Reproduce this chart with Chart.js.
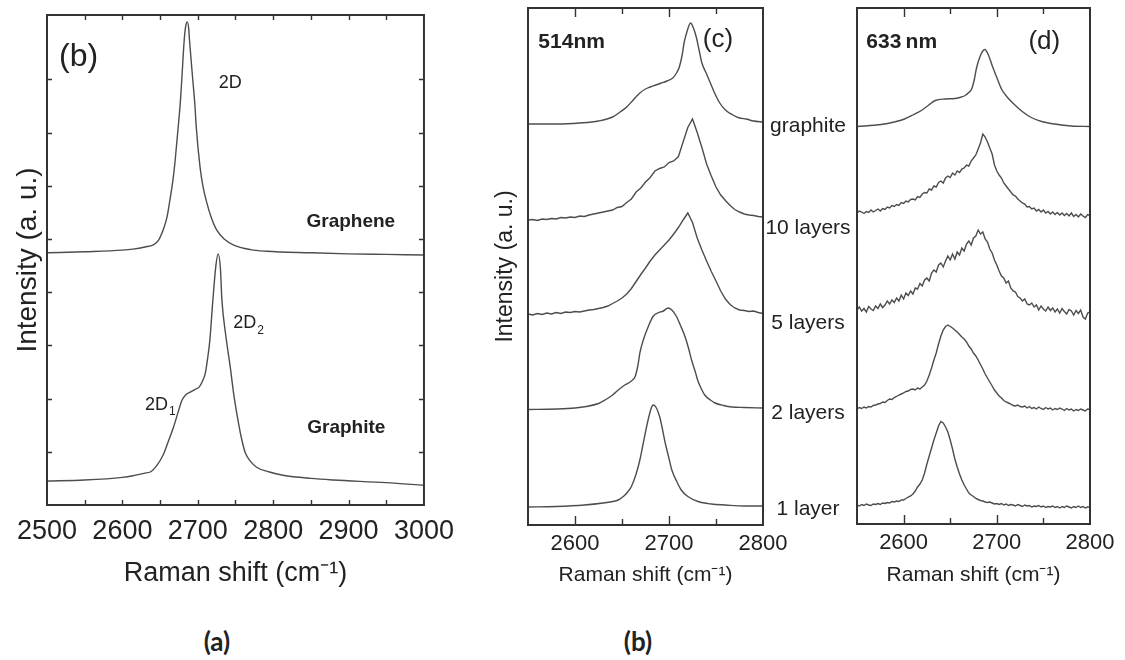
<!DOCTYPE html>
<html lang="en">
<head>
<meta charset="UTF-8">
<title>Raman 2D band of graphene and graphite</title>
<script src="https://cdn.jsdelivr.net/npm/chart.js@4.4.1/dist/chart.umd.min.js"></script>
<style>
    body, html {
        margin: 0;
        padding: 0;
        background: #fff;
    }

    #page {
        position: relative;
        width: 1125px;
        height: 660px;
        overflow: hidden;
        font-family: "Liberation Sans", Arial, sans-serif;
        color: #222;
    }

    .panel { position: absolute; top: 0; height: 600px; }
    #panelA { left: 0; width: 464px; }
    #panelC { left: 480px; width: 320px; }
    #panelD { left: 830px; width: 295px; }

    .layer {
        position: absolute;
        left: 758px;
        width: 100px;
        text-align: center;
        font-size: 21px;
        line-height: 24px;
        white-space: nowrap;
    }

    .caption {
        position: absolute;
        top: 626px;
        width: 60px;
        text-align: center;
        font-family: Lato, "Noto Sans", sans-serif;
        font-weight: bold;
        font-size: 26px;
        line-height: 30px;
    }
</style>
</head>
<body>
<div id="page">
    <div class="panel" id="panelA"><canvas id="chartA"></canvas></div>
    <div class="panel" id="panelC"><canvas id="chartC"></canvas></div>
    <div class="panel" id="panelD"><canvas id="chartD"></canvas></div>

    <div class="layer" style="top:113px">graphite</div>
    <div class="layer" style="top:215px">10 layers</div>
    <div class="layer" style="top:310px">5 layers</div>
    <div class="layer" style="top:400px">2 layers</div>
    <div class="layer" style="top:496px">1 layer</div>

    <div class="caption" style="left:187px">(a)</div>
    <div class="caption" style="left:608px">(b)</div>
</div>

<script>
    // ---- panel (a): 2D band, single layer vs bulk, 2500-3000 cm-1 ----
    const shiftGrapheneA = [2500, 2550, 2600, 2614, 2630, 2641, 2648, 2654, 2659, 2663, 2667, 2670, 2674, 2677,
        2679, 2682, 2684, 2686, 2688, 2689, 2693, 2696, 2698, 2703, 2707, 2712, 2718, 2725, 2735, 2747, 2770,
        2791, 2850, 2900, 2950, 3000];
    const intGrapheneA = [4.74, 4.76, 4.79, 4.81, 4.85, 4.89, 4.98, 5.17, 5.40, 5.73, 6.10, 6.48, 7.10, 7.60,
        8.05, 8.74, 9.00, 9.08, 8.95, 8.74, 8.05, 7.55, 7.10, 6.35, 5.98, 5.68, 5.40, 5.17, 5.00, 4.89, 4.80,
        4.77, 4.74, 4.72, 4.71, 4.70];

    const shiftGraphiteA = [2500, 2550, 2600, 2614, 2630, 2637, 2646, 2654, 2661, 2668, 2674, 2679, 2684, 2690,
        2696, 2702, 2706, 2710, 2713, 2716, 2720, 2724, 2727, 2730, 2732, 2737, 2743, 2748, 2754, 2758, 2763,
        2770, 2778, 2795, 2813, 2850, 2880, 2950, 3000];
    const intGraphiteA = [0.45, 0.47, 0.52, 0.55, 0.60, 0.62, 0.75, 0.94, 1.20, 1.47, 1.75, 1.97, 2.07, 2.12,
        2.17, 2.22, 2.32, 2.48, 2.75, 3.10, 3.85, 4.50, 4.72, 4.45, 3.85, 3.20, 2.60, 2.05, 1.54, 1.25, 0.98,
        0.82, 0.71, 0.62, 0.56, 0.50, 0.47, 0.42, 0.37];

    const ticksA = [2500, 2600, 2700, 2800, 2900, 3000];

    // ---- panels (c) and (d): layer dependence, offset stacks ----
    const gridShift = [2550, 2555, 2560, 2565, 2570, 2575, 2580, 2585, 2590, 2595,
        2600, 2605, 2610, 2615, 2620, 2625, 2630, 2635, 2640, 2645,
        2650, 2655, 2660, 2665, 2670, 2675, 2680, 2685, 2690, 2695,
        2700, 2705, 2710, 2715, 2720, 2725, 2730, 2735, 2740, 2745,
        2750, 2755, 2760, 2765, 2770, 2775, 2780, 2785, 2790, 2795, 2800];

    // finer sampling for the noisy 633 nm spectra
    const fineShift = [2550, 2552.5, 2555, 2557.5, 2560, 2562.5, 2565, 2567.5, 2570, 2572.5,
        2575, 2577.5, 2580, 2582.5, 2585, 2587.5, 2590, 2592.5, 2595, 2597.5,
        2600, 2602.5, 2605, 2607.5, 2610, 2612.5, 2615, 2617.5, 2620, 2622.5,
        2625, 2627.5, 2630, 2632.5, 2635, 2637.5, 2640, 2642.5, 2645, 2647.5,
        2650, 2652.5, 2655, 2657.5, 2660, 2662.5, 2665, 2667.5, 2670, 2672.5,
        2675, 2677.5, 2680, 2682.5, 2685, 2687.5, 2690, 2692.5, 2695, 2697.5,
        2700, 2702.5, 2705, 2707.5, 2710, 2712.5, 2715, 2717.5, 2720, 2722.5,
        2725, 2727.5, 2730, 2732.5, 2735, 2737.5, 2740, 2742.5, 2745, 2747.5,
        2750, 2752.5, 2755, 2757.5, 2760, 2762.5, 2765, 2767.5, 2770, 2772.5,
        2775, 2777.5, 2780, 2782.5, 2785, 2787.5, 2790, 2792.5, 2795, 2797.5,
        2800];

    // 514 nm excitation
    const shiftGraphite514 = [2550, 2580, 2605, 2625, 2640, 2648, 2655, 2662, 2669, 2675, 2680, 2686, 2692, 2698,
        2704, 2708, 2711, 2714, 2716, 2719, 2723, 2726, 2729, 2732, 2735, 2740, 2744, 2749, 2754, 2760, 2768,
        2775, 2782, 2790, 2800];
    const intGraphite514 = [8.02, 8.02, 8.04, 8.08, 8.16, 8.26, 8.36, 8.50, 8.64, 8.72, 8.76, 8.80, 8.84, 8.88,
        8.94, 9.04, 9.16, 9.40, 9.64, 9.86, 10.04, 9.94, 9.76, 9.50, 9.24, 9.02, 8.84, 8.62, 8.44, 8.30, 8.20,
        8.14, 8.12, 8.08, 8.06];

    const int10Layers514 = [6.10, 6.11, 6.09, 6.12, 6.11, 6.13, 6.12, 6.15, 6.14, 6.16,
        6.15, 6.18, 6.17, 6.20, 6.22, 6.24, 6.26, 6.28, 6.30, 6.35,
        6.37, 6.45, 6.52, 6.66, 6.74, 6.86, 6.95, 7.08, 7.13, 7.16,
        7.25, 7.28, 7.37, 7.66, 7.95, 8.12, 7.85, 7.55, 7.22, 6.98,
        6.76, 6.60, 6.49, 6.39, 6.31, 6.26, 6.22, 6.20, 6.19, 6.17, 6.16];

    const int5Layers514 = [4.22, 4.20, 4.23, 4.21, 4.24, 4.22, 4.25, 4.23, 4.26, 4.25,
        4.27, 4.26, 4.28, 4.30, 4.31, 4.33, 4.35, 4.38, 4.43, 4.48,
        4.54, 4.62, 4.73, 4.87, 5.01, 5.14, 5.28, 5.40, 5.50, 5.60,
        5.70, 5.82, 5.95, 6.10, 6.24, 6.05, 5.74, 5.50, 5.28, 5.07,
        4.88, 4.68, 4.52, 4.41, 4.34, 4.30, 4.29, 4.27, 4.28, 4.25, 4.23];

    const shift2Layers514 = [2550, 2580, 2600, 2612, 2625, 2632, 2640, 2646, 2653, 2660, 2664, 2667, 2669, 2673,
        2678, 2683, 2688, 2694, 2699, 2703, 2708, 2712, 2717, 2721, 2724, 2728, 2731, 2735, 2738, 2744, 2749,
        2758, 2767, 2780, 2800];
    const int2Layers514 = [2.31, 2.32, 2.34, 2.37, 2.43, 2.50, 2.60, 2.70, 2.80, 2.88, 2.97, 3.20, 3.44, 3.72,
        3.97, 4.17, 4.24, 4.28, 4.34, 4.30, 4.17, 4.00, 3.77, 3.52, 3.30, 3.06, 2.87, 2.70, 2.60, 2.50, 2.44,
        2.39, 2.36, 2.35, 2.34];

    const shift1Layer514 = [2550, 2580, 2610, 2630, 2640, 2646, 2652, 2656, 2660, 2665, 2669, 2672, 2675, 2678,
        2681, 2683, 2686, 2690, 2693, 2696, 2700, 2703, 2708, 2713, 2720, 2731, 2745, 2760, 2780, 2800];
    const int1Layer514 = [0.36, 0.37, 0.40, 0.44, 0.47, 0.50, 0.58, 0.66, 0.77, 1.02, 1.30, 1.58, 1.86, 2.12,
        2.33, 2.40, 2.36, 2.17, 1.92, 1.64, 1.33, 1.10, 0.88, 0.70, 0.57, 0.47, 0.42, 0.40, 0.38, 0.38];

    // 633 nm excitation
    const shiftGraphite633 = [2550, 2576, 2590, 2601, 2610, 2619, 2627, 2634, 2645, 2655, 2662, 2666, 2670, 2673,
        2676, 2678, 2682, 2687, 2691, 2695, 2700, 2705, 2712, 2720, 2728, 2737, 2748, 2762, 2780, 2800];
    const intGraphite633 = [7.95, 7.99, 8.04, 8.10, 8.18, 8.27, 8.38, 8.47, 8.50, 8.51, 8.54, 8.57, 8.63, 8.70,
        8.90, 9.10, 9.35, 9.49, 9.38, 9.17, 8.93, 8.70, 8.52, 8.37, 8.24, 8.13, 8.05, 8.00, 7.96, 7.95];

    const int10Layers633 = [6.22, 6.26, 6.24, 6.21, 6.25, 6.23, 6.28, 6.24, 6.27, 6.30,
        6.26, 6.31, 6.29, 6.34, 6.32, 6.37, 6.35, 6.39, 6.37, 6.43,
        6.41, 6.46, 6.44, 6.49, 6.50, 6.48, 6.55, 6.53, 6.60, 6.63,
        6.62, 6.70, 6.68, 6.76, 6.74, 6.83, 6.86, 6.82, 6.92, 6.96,
        6.93, 7.02, 6.98, 7.06, 7.03, 7.10, 7.12, 7.18, 7.16, 7.26,
        7.32, 7.38, 7.50, 7.62, 7.80, 7.74, 7.64, 7.52, 7.40, 7.18,
        7.06, 6.98, 6.92, 6.82, 6.76, 6.70, 6.64, 6.58, 6.56, 6.50,
        6.46, 6.42, 6.40, 6.34, 6.35, 6.30, 6.32, 6.26, 6.29, 6.24,
        6.28, 6.22, 6.25, 6.20, 6.24, 6.19, 6.23, 6.18, 6.22, 6.17,
        6.21, 6.16, 6.22, 6.15, 6.19, 6.14, 6.20, 6.16, 6.13, 6.19,
        6.17];

    const int5Layers633 = [4.28, 4.34, 4.26, 4.31, 4.24, 4.35, 4.30, 4.27, 4.36, 4.31,
        4.40, 4.33, 4.38, 4.46, 4.40, 4.48, 4.43, 4.52, 4.46, 4.58,
        4.50, 4.62, 4.57, 4.66, 4.60, 4.72, 4.70, 4.81, 4.76, 4.88,
        4.92, 4.86, 5.02, 5.08, 5.04, 5.18, 5.22, 5.14, 5.26, 5.36,
        5.28, 5.40, 5.30, 5.44, 5.38, 5.52, 5.46, 5.60, 5.66, 5.58,
        5.72, 5.76, 5.88, 5.80, 5.84, 5.70, 5.64, 5.50, 5.42, 5.28,
        5.18, 5.06, 4.96, 4.92, 4.82, 4.86, 4.72, 4.66, 4.64, 4.55,
        4.52, 4.46, 4.50, 4.40, 4.38, 4.42, 4.34, 4.38, 4.28, 4.36,
        4.30, 4.26, 4.34, 4.27, 4.32, 4.24, 4.30, 4.22, 4.31, 4.25,
        4.20, 4.29, 4.26, 4.18, 4.27, 4.21, 4.28, 4.14, 4.10, 4.22,
        4.24];

    const int2Layers633 = [2.30, 2.33, 2.31, 2.34, 2.32, 2.35, 2.34, 2.37, 2.38, 2.40,
        2.41, 2.44, 2.43, 2.47, 2.50, 2.49, 2.53, 2.55, 2.58, 2.60,
        2.62, 2.65, 2.66, 2.69, 2.70, 2.68, 2.72, 2.70, 2.74, 2.78,
        2.86, 2.98, 3.12, 3.28, 3.42, 3.60, 3.76, 3.88, 3.95, 3.98,
        3.95, 3.92, 3.88, 3.84, 3.79, 3.74, 3.70, 3.64, 3.56, 3.50,
        3.42, 3.36, 3.28, 3.19, 3.10, 3.00, 2.92, 2.84, 2.76, 2.68,
        2.62, 2.56, 2.52, 2.47, 2.44, 2.42, 2.40, 2.37, 2.36, 2.38,
        2.35, 2.34, 2.36, 2.32, 2.35, 2.31, 2.33, 2.30, 2.34, 2.31,
        2.29, 2.33, 2.30, 2.32, 2.28, 2.31, 2.29, 2.32, 2.30, 2.27,
        2.31, 2.28, 2.30, 2.26, 2.29, 2.27, 2.30, 2.28, 2.26, 2.30,
        2.29];

    const int1Layer633 = [0.38, 0.36, 0.39, 0.37, 0.40, 0.38, 0.37, 0.40, 0.39, 0.41,
        0.39, 0.42, 0.41, 0.43, 0.42, 0.45, 0.44, 0.46, 0.45, 0.48,
        0.48, 0.51, 0.54, 0.56, 0.60, 0.66, 0.74, 0.80, 0.88, 1.02,
        1.20, 1.36, 1.52, 1.68, 1.82, 1.96, 2.05, 2.02, 1.94, 1.84,
        1.68, 1.50, 1.30, 1.14, 1.00, 0.88, 0.78, 0.70, 0.62, 0.58,
        0.55, 0.51, 0.49, 0.47, 0.46, 0.44, 0.43, 0.44, 0.42, 0.40,
        0.41, 0.39, 0.41, 0.38, 0.40, 0.37, 0.39, 0.38, 0.36, 0.39,
        0.37, 0.35, 0.38, 0.36, 0.37, 0.34, 0.36, 0.35, 0.37, 0.34,
        0.36, 0.33, 0.35, 0.34, 0.36, 0.33, 0.35, 0.32, 0.35, 0.33,
        0.36, 0.34, 0.32, 0.35, 0.33, 0.36, 0.33, 0.35, 0.32, 0.34,
        0.34];

    const ticksCD = [2600, 2700, 2800];

    const FONT = '"Liberation Sans", Arial, sans-serif';
    Chart.defaults.font.family = FONT;
    Chart.defaults.color = '#222';

    function spectrum(xs, ys, smooth) {
        return {
            data: xs.map((x, i) => ({ x: x, y: ys[i] })),
            borderColor: '#4d4d4d',
            borderWidth: 1.4,
            pointRadius: 0,
            fill: false,
            tension: 0,
            cubicInterpolationMode: smooth ? 'monotone' : 'default'
        };
    }

    // box frame, inward tick marks and in-plot labels
    function frameTicks(o) {
        return {
            id: 'frameTicks',
            afterDraw(chart) {
                const ctx = chart.ctx;
                const a = chart.chartArea;
                const x = chart.scales.x;
                const y = chart.scales.y;

                ctx.save();
                ctx.strokeStyle = '#333';
                ctx.lineWidth = 1.4;
                ctx.beginPath();
                o.xMajor.forEach(v => {
                    const px = Math.round(x.getPixelForValue(v)) + 0.5;
                    ctx.moveTo(px, a.bottom); ctx.lineTo(px, a.bottom - o.majorLen);
                    ctx.moveTo(px, a.top); ctx.lineTo(px, a.top + o.majorLen);
                });
                o.xMinor.forEach(v => {
                    const px = Math.round(x.getPixelForValue(v)) + 0.5;
                    ctx.moveTo(px, a.bottom); ctx.lineTo(px, a.bottom - o.minorLen);
                    ctx.moveTo(px, a.top); ctx.lineTo(px, a.top + o.minorLen);
                });
                (o.yTicks || []).forEach(v => {
                    const py = Math.round(y.getPixelForValue(v)) + 0.5;
                    ctx.moveTo(a.left, py); ctx.lineTo(a.left + o.majorLen, py);
                    ctx.moveTo(a.right, py); ctx.lineTo(a.right - o.majorLen, py);
                });
                ctx.stroke();

                ctx.lineWidth = 2;
                ctx.strokeRect(a.left, a.top, a.right - a.left, a.bottom - a.top);

                ctx.fillStyle = '#222';
                ctx.textBaseline = 'middle';
                (o.labels || []).forEach(l => {
                    ctx.font = (l.bold ? 'bold ' : '') + l.size + 'px ' + FONT;
                    ctx.textAlign = l.align || 'center';
                    const px = x.getPixelForValue(l.x);
                    const py = y.getPixelForValue(l.y);
                    ctx.fillText(l.text, px, py);
                    if (l.sub) {
                        const w = ctx.measureText(l.text).width;
                        ctx.font = Math.round(l.size * 0.65) + 'px ' + FONT;
                        ctx.textAlign = 'left';
                        ctx.fillText(l.sub, px + w + 1, py + l.size * 0.4);
                    }
                });
                ctx.restore();
            }
        };
    }

    function buildChart(id, datasets, o) {
        return new Chart(document.getElementById(id), {
            type: 'line',
            data: { datasets: datasets },
            options: {
                animation: false,
                responsive: true,
                maintainAspectRatio: false,
                layout: { padding: { top: o.padTop, right: o.padRight, left: 0, bottom: 0 } },
                plugins: { legend: { display: false }, tooltip: { enabled: false } },
                scales: {
                    x: {
                        type: 'linear',
                        min: o.xMin,
                        max: o.xMax,
                        grid: { display: false, drawTicks: false },
                        border: { display: false },
                        afterBuildTicks: s => { s.ticks = o.xLabels.map(v => ({ value: v })); },
                        afterFit: s => { s.height = o.xAxisHeight; },
                        ticks: {
                            font: { size: o.tickSize },
                            color: '#222',
                            padding: o.tickPad,
                            maxRotation: 0,
                            autoSkip: false,
                            callback: v => String(v)
                        },
                        title: {
                            display: true,
                            text: 'Raman shift (cm\u207B\u00B9)',
                            font: { size: o.xTitleSize },
                            color: '#222',
                            padding: { top: 0, bottom: o.xTitlePad }
                        }
                    },
                    y: {
                        min: 0,
                        max: o.yMax,
                        grid: { display: false, drawTicks: false },
                        border: { display: false },
                        ticks: { display: false },
                        afterFit: s => { s.width = o.yAxisWidth; },
                        title: {
                            display: !!o.yTitle,
                            text: o.yTitle || '',
                            font: { size: o.yTitleSize || 12 },
                            color: '#222',
                            padding: { top: o.yTitlePad || 0, bottom: 0 }
                        }
                    }
                }
            },
            plugins: [frameTicks(o)]
        });
    }

    buildChart('chartA', [
        spectrum(shiftGrapheneA, intGrapheneA, true),
        spectrum(shiftGraphiteA, intGraphiteA, true)
    ], {
        xMin: 2500, xMax: 3000, yMax: 9.21,
        padTop: 15, padRight: 40, yAxisWidth: 47, xAxisHeight: 95,
        xLabels: ticksA, tickSize: 27, tickPad: 10,
        xTitleSize: 27, xTitlePad: 10,
        yTitle: 'Intensity (a. u.)', yTitleSize: 28, yTitlePad: 11,
        xMajor: [2600, 2700, 2800, 2900],
        xMinor: [2550, 2650, 2750, 2850, 2950],
        yTicks: [1, 2, 3, 4, 5, 6, 7, 8],
        majorLen: 5, minorLen: 5,
        labels: [
            { text: '(b)', x: 2542, y: 8.42, size: 32 },
            { text: '2D', x: 2743, y: 7.93, size: 18 },
            { text: 'Graphene', x: 2903, y: 5.32, size: 19, bold: true },
            { text: 'Graphite', x: 2897, y: 1.45, size: 19, bold: true },
            { text: '2D', sub: '2', x: 2747, y: 3.42, size: 18, align: 'left' },
            { text: '2D', sub: '1', x: 2630, y: 1.88, size: 18, align: 'left' }
        ]
    });

    buildChart('chartC', [
        spectrum(shiftGraphite514, intGraphite514, true),
        spectrum(gridShift, int10Layers514, false),
        spectrum(gridShift, int5Layers514, false),
        spectrum(shift2Layers514, int2Layers514, true),
        spectrum(shift1Layer514, int1Layer514, true)
    ], {
        xMin: 2550, xMax: 2800, yMax: 10.34,
        padTop: 8, padRight: 37, yAxisWidth: 48, xAxisHeight: 75,
        xLabels: ticksCD, tickSize: 22, tickPad: 6,
        xTitleSize: 21, xTitlePad: 12,
        yTitle: 'Intensity (a. u.)', yTitleSize: 23, yTitlePad: 12,
        xMajor: [2600, 2700],
        xMinor: [2650, 2750],
        majorLen: 9, minorLen: 6,
        labels: [
            { text: '514nm', x: 2561, y: 9.66, size: 21, bold: true, align: 'left' },
            { text: '(c)', x: 2752, y: 9.70, size: 26 }
        ]
    });

    buildChart('chartD', [
        spectrum(shiftGraphite633, intGraphite633, true),
        spectrum(fineShift, int10Layers633, false),
        spectrum(fineShift, int5Layers633, false),
        spectrum(fineShift, int2Layers633, false),
        spectrum(fineShift, int1Layer633, false)
    ], {
        xMin: 2550, xMax: 2800, yMax: 10.32,
        padTop: 8, padRight: 35, yAxisWidth: 27, xAxisHeight: 76,
        xLabels: ticksCD, tickSize: 22, tickPad: 6,
        xTitleSize: 21, xTitlePad: 12,
        xMajor: [2600, 2700],
        xMinor: [2650, 2750],
        majorLen: 9, minorLen: 6,
        labels: [
            { text: '633\u2009nm', x: 2560, y: 9.64, size: 21, bold: true, align: 'left' },
            { text: '(d)', x: 2751, y: 9.64, size: 26 }
        ]
    });
</script>
</body>
</html>
